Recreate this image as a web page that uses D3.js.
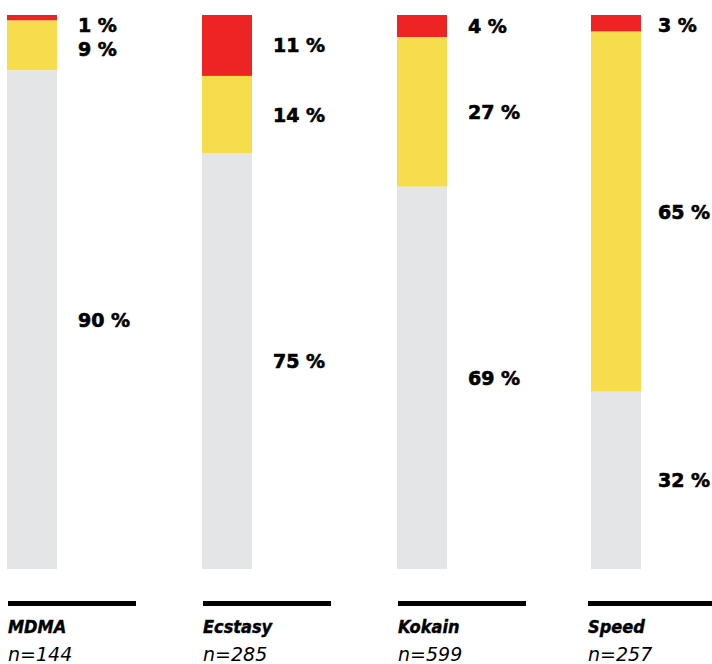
<!DOCTYPE html>
<html>
<head>
<meta charset="utf-8">
<script src="https://cdn.jsdelivr.net/npm/d3@7"></script>
<style>
  body { margin: 0; background: #fff; }
  .pct { font-family: "DejaVu Sans", sans-serif; font-weight: bold; font-size: 19px; fill: #000; stroke: #000; stroke-width: 0.6px; }
  .cat { font-family: "DejaVu Sans Condensed", "DejaVu Sans", sans-serif; font-weight: bold; font-style: italic; font-stretch: condensed; font-size: 18px; stroke: #000; stroke-width: 0.4px; }
  .n { font-family: "DejaVu Sans", sans-serif; font-style: italic; font-size: 19px; }
</style>
</head>
<body>
<div id="chart"></div>
<script>
var categories = ["MDMA", "Ecstasy", "Kokain", "Speed"];
var counts = [144, 285, 599, 257];
// stacked from the top: red, yellow, grey
var redValues = [1, 11, 4, 3];
var yellowValues = [9, 14, 27, 65];
var greyValues = [90, 75, 69, 32];
var colors = ["#ee2424", "#f7dd4b", "#e4e5e7"];

var W = 712, H = 664;

var svg = d3.select("#chart").append("svg")
    .attr("width", W)
    .attr("height", H);

var x = d3.scaleBand()
    .domain(categories)
    .range([7, 786])
    .paddingInner(0);

var y = d3.scaleLinear()
    .domain([0, 100])
    .range([15, 569]);

var barW = 50;

categories.forEach(function(cat, i) {
  var vals = [redValues[i], yellowValues[i], greyValues[i]];
  var g = svg.append("g").attr("class", "group");
  var bx = Math.round(x(cat));

  var acc = 0;
  var segs = vals.map(function(v, k) {
    var s = { v: v, y0: acc, y1: acc + v, color: colors[k] };
    acc += v;
    return s;
  });

  g.selectAll("rect")
    .data(segs)
    .enter().append("rect")
      .attr("x", bx)
      .attr("y", function(d) { return y(d.y0); })
      .attr("width", barW)
      .attr("height", function(d) { return y(d.y1) - y(d.y0); })
      .attr("fill", function(d) { return d.color; });

  // label positions: segment middle, pushed down to avoid overlap
  var prev = -Infinity;
  segs.forEach(function(s) {
    var m = (y(s.y0) + y(s.y1)) / 2;
    m = Math.max(m, 25, prev + 24);
    s.ly = m;
    prev = m;
  });

  var labels = g.selectAll("text.pct")
    .data(segs)
    .enter().append("text")
      .attr("class", "pct")
      .attr("y", function(d) { return d.ly; })
      .attr("dy", "0.36em")
      .text(function(d) { return d.v + " %"; });

  var maxLen = 0;
  labels.each(function() { maxLen = Math.max(maxLen, this.getComputedTextLength()); });
  var lx = Math.min(bx + barW + 21, W - maxLen - 2);
  labels.attr("x", lx);

  var ux = Math.min(bx + 1, W - 124);
  g.append("line")
    .attr("x1", ux)
    .attr("x2", ux + 128)
    .attr("y1", 603.5)
    .attr("y2", 603.5)
    .attr("stroke", "#000")
    .attr("stroke-width", 5);

  g.append("text")
    .attr("class", "cat")
    .attr("x", ux)
    .attr("y", 633)
    .text(cat);

  g.append("text")
    .attr("class", "n")
    .attr("x", ux)
    .attr("y", 661)
    .text("n=" + counts[i]);
});
</script>
</body>
</html>
